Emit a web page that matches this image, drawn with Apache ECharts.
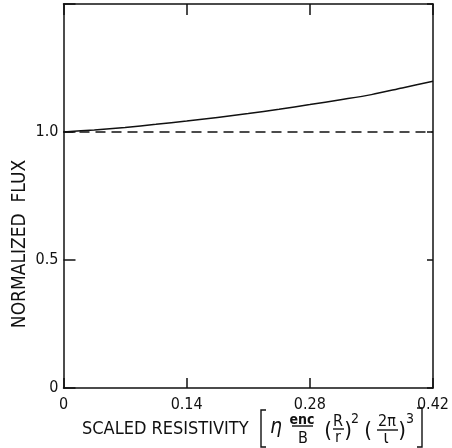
<!DOCTYPE html>
<html lang="en">
<head>
<meta charset="UTF-8">
<title>Normalized flux</title>
<script src="https://cdn.jsdelivr.net/npm/echarts@6/dist/echarts.min.js"></script>
<style>
* { margin: 0; padding: 0; }
body { background: #fff; }
#box { width: 452px; height: 448px; }
</style>
</head>
<body>
<div id="box"></div>
<script>
// scaled resistivity (x) vs normalized flux (y)
var resistivity = [0, 0.035, 0.07, 0.105, 0.14, 0.175, 0.21, 0.245, 0.28, 0.315, 0.35, 0.385, 0.42];
var fluxSolid = [1.0, 1.008, 1.018, 1.030, 1.043, 1.057, 1.072, 1.089, 1.107, 1.126, 1.146, 1.172, 1.198];
// dashed reference line
var refX = [0, 0.42];
var fluxRef = [1.0, 1.0];
var xTickLabels = ['0', '0.14', '0.28', '0.42'];
var yTickLabels = ['0', '0.5', '1.0', ''];

var font = "'Liberation Sans Narrow', 'DejaVu Sans Condensed', sans-serif";
var ink = '#111';

function pairs(xs, ys) {
    var out = [];
    for (var i = 0; i < xs.length; i++) out.push([xs[i], ys[i]]);
    return out;
}

function txt(s, x, y, size, pre) {
    return { type: 'text', x: x, y: y, silent: true,
        style: { text: s, fill: ink, font: (pre ? pre + ' ' : '') + size + 'px ' + font, align: 'center', verticalAlign: 'middle' } };
}
function seg(pts) {
    return { type: 'polyline', shape: { points: pts }, style: { stroke: ink, lineWidth: 1.4, fill: null }, silent: true };
}

var lineStyle = { color: ink, width: 1.5 };

var option = {
    animation: false,
    backgroundColor: '#fff',
    grid: { left: 63.5, right: 18, top: 4, bottom: 60 },
    xAxis: [{
        type: 'value', min: 0, max: 0.42, interval: 0.14,
        axisLine: { onZero: false, lineStyle: lineStyle },
        axisTick: { inside: true, length: 10, lineStyle: lineStyle },
        splitLine: { show: false },
        axisLabel: {
            margin: 9, color: ink, fontSize: 16, fontFamily: font,
            formatter: function (v) { return xTickLabels[Math.round(v / 0.14)]; }
        }
    }, {
        type: 'value', position: 'top', min: 0, max: 0.42, interval: 0.14,
        axisLine: { onZero: false, lineStyle: lineStyle },
        axisTick: { inside: true, length: 11, lineStyle: lineStyle },
        splitLine: { show: false },
        axisLabel: { show: false }
    }],
    yAxis: [{
        type: 'value', min: 0, max: 1.5, interval: 0.5,
        axisLine: { show: true, onZero: false, lineStyle: lineStyle },
        axisTick: { show: true, inside: true, length: 12, lineStyle: lineStyle },
        splitLine: { show: false },
        axisLabel: {
            margin: 5, color: ink, fontSize: 16, fontFamily: font,
            formatter: function (v) { return yTickLabels[Math.round(v / 0.5)]; }
        }
    }, {
        type: 'value', position: 'right', min: 0, max: 1.5, interval: 0.5,
        axisLine: { show: true, onZero: false, lineStyle: lineStyle },
        axisTick: { show: true, inside: true, length: 6, lineStyle: lineStyle },
        splitLine: { show: false },
        axisLabel: { show: false }
    }],
    series: [{
        type: 'line', data: pairs(resistivity, fluxSolid), smooth: 0.3,
        symbol: 'none', lineStyle: { color: ink, width: 1.5 }
    }, {
        type: 'line', data: pairs(refX, fluxRef),
        symbol: 'none', lineStyle: { color: ink, width: 1.5, type: [10, 6] }
    }],
    graphic: [
        { type: 'text', x: 20, y: 244, rotation: Math.PI / 2, silent: true,
          style: { text: 'NORMALIZED  FLUX', fill: ink, font: '19px ' + font, align: 'center', verticalAlign: 'middle' } },
        { type: 'text', x: 82, y: 429, silent: true,
          style: { text: 'SCALED RESISTIVITY', fill: ink, font: '18px ' + font, align: 'left', verticalAlign: 'middle' } },
        seg([[266, 410], [261, 410], [261, 447], [266, 447]]),
        txt('η', 276, 428, 21, 'italic'),
        txt('enc', 302, 420, 14, 'bold'),
        seg([[292, 426], [313, 426]]),
        txt('B', 303, 439, 16),
        txt('(', 328, 431, 22),
        txt('R', 338, 422, 16),
        seg([[333, 429], [344, 429]]),
        txt('r', 338, 438, 16),
        txt(')', 348, 431, 22),
        txt('2', 355, 419, 14),
        txt('(', 368, 431, 22),
        txt('2π', 387, 422, 16),
        seg([[377, 430], [398, 430]]),
        txt('ι', 386, 439, 17),
        txt(')', 402, 431, 22),
        txt('3', 410, 419, 14),
        seg([[417, 408], [422, 408], [422, 447], [417, 447]])
    ]
};

echarts.init(document.querySelector('#box')).setOption(option);
</script>
</body>
</html>
